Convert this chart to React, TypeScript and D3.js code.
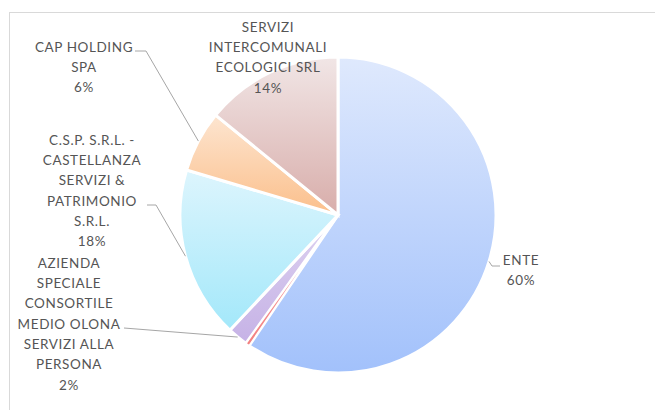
import React from 'react'
import * as d3 from 'd3'

// slice order follows the sheet: clockwise from 12 o'clock
const names = [
  'ENTE',
  'ALTRO',
  'AZIENDA SPECIALE CONSORTILE MEDIO OLONA SERVIZI ALLA PERSONA',
  'C.S.P. S.R.L. - CASTELLANZA SERVIZI & PATRIMONIO S.R.L.',
  'CAP HOLDING SPA',
  'SERVIZI INTERCOMUNALI ECOLOGICI SRL',
]
const shares = [59.5, 0.4, 2.1, 17.6, 6.3, 14.1]

// how each label is wrapped (null = no label shown)
const labelLines: (string[] | null)[] = [
  ['ENTE'],
  null,
  ['AZIENDA', 'SPECIALE', 'CONSORTILE', 'MEDIO OLONA', 'SERVIZI ALLA', 'PERSONA'],
  ['C.S.P. S.R.L. -', 'CASTELLANZA', 'SERVIZI &', 'PATRIMONIO', 'S.R.L.'],
  ['CAP HOLDING', 'SPA'],
  ['SERVIZI', 'INTERCOMUNALI', 'ECOLOGICI SRL'],
]

// gradient stops, top -> bottom of each slice
const gradTop = ['#dfe9fd', '#f9b4b4', '#ddd2f0', '#ddf5fd', '#fde5d0', '#f1e6e6']
const gradBottom = ['#a2c1fb', '#f28080', '#c6b2e6', '#a3e8fa', '#fbbf8b', '#d8adaa']

const W = 655
const H = 410
const cx = 338
const cy = 215
const R = 158

// label block centre x / first line centre y, and the leader elbow
const labelLayout = [
  { x: 521, y: 260, elbow: [[492, 266], [500, 266]] },
  null,
  { x: 69, y: 263, elbow: [[124, 328]] },
  { x: 92, y: 140, elbow: [[156, 205], [147, 205]] },
  { x: 84, y: 47, elbow: [[146, 51], [135, 51]] },
  { x: 268, y: 27, elbow: null },
]

const lineGap = 20.3
const font = "Lato, 'Open Sans', sans-serif"
const fmt = d3.format('.0f')

export default function App() {
  const data = names.map((n, i) => ({ name: n, value: shares[i], i }))
  const createPie = d3
    .pie<{ name: string; value: number; i: number }>()
    .value((d) => d.value)
    .sort(null)
  const arcs = createPie(data)
  const createArc = d3.arc<any>().innerRadius(0).outerRadius(R)
  const edgeArc = d3.arc<any>().innerRadius(R).outerRadius(R)

  // very thin slices go on top with a thinner border so they stay visible
  const thin = (v: number) => v < 1
  const ordered = [...arcs.filter((a) => !thin(a.data.value)), ...arcs.filter((a) => thin(a.data.value))]

  return (
    <svg
      width={W}
      height={H}
      style={{ position: 'absolute', left: 0, top: 0, background: '#fff' }}
    >
      <defs>
        {arcs.map((a) => (
          <linearGradient key={a.index} id={`g${a.index}`} x1="0" y1="0" x2="0" y2="1">
            <stop offset="0" stopColor={gradTop[a.index]} />
            <stop offset="1" stopColor={gradBottom[a.index]} />
          </linearGradient>
        ))}
      </defs>
      <rect x={9.5} y={12.5} width={700} height={450} fill="#fff" stroke="#d9d9d9" />
      <g transform={`translate(${cx},${cy})`}>
        {ordered.map((a) => (
          <path
            key={a.index}
            d={createArc(a) as string}
            fill={`url(#g${a.index})`}
            stroke="#fff"
            strokeWidth={thin(a.data.value) ? 1.7 : 3}
            strokeLinejoin="miter"
          />
        ))}
      </g>
      {arcs.map((a) => {
        const lay = labelLayout[a.index]
        const lines = labelLines[a.index]
        if (!lay || !lines) return null
        const [ex, ey] = edgeArc.centroid(a)
        const pts = [[cx + ex, cy + ey], ...(lay.elbow || [])]
        const all = [...lines, fmt(a.data.value) + '%']
        return (
          <g key={a.index}>
            {lay.elbow && (
              <path
                d={d3.line()(pts as [number, number][]) as string}
                fill="none"
                stroke="#a6a6a6"
                strokeWidth={1}
              />
            )}
            <text
              fontFamily={font}
              fontSize={13.5}
              fill="#555555"
              textAnchor="middle"
              letterSpacing={0.6}
            >
              {all.map((t, k) => (
                <tspan key={k} x={lay.x} y={lay.y + k * lineGap} dy="0.35em">
                  {t}
                </tspan>
              ))}
            </text>
          </g>
        )
      })}
    </svg>
  )
}
